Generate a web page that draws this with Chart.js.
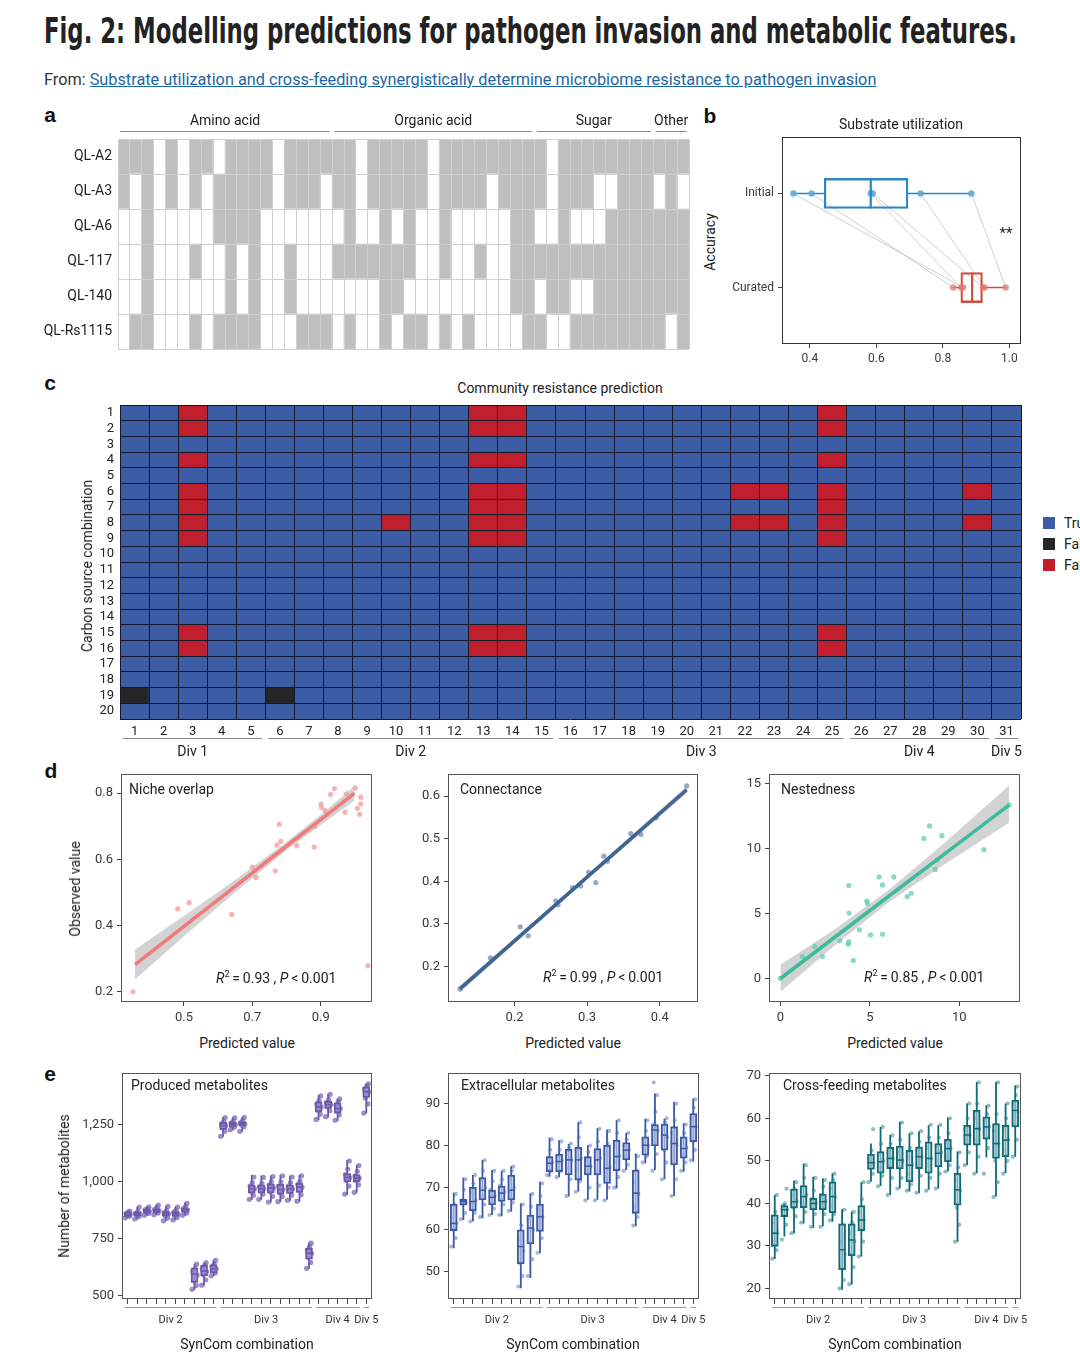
<!DOCTYPE html>
<html lang="en">
<head>
<meta charset="utf-8">
<title>Fig. 2: Modelling predictions for pathogen invasion and metabolic features</title>
<script src="https://cdn.jsdelivr.net/npm/chart.js@4.4.1/dist/chart.umd.min.js"></script>
<style>
  html, body { margin: 0; padding: 0; }
  body { position: relative; width: 1080px; height: 1367px; overflow: hidden; background: #fff;
         font-family: Roboto, "Liberation Sans", Arial, sans-serif; color: #222; }
  canvas { position: absolute; }
  .t { position: absolute; white-space: nowrap; font-size: 14px; line-height: 1; }
  .mid { transform: translate(-50%, -50%); }
  .lft { transform: translateY(-50%); }
  .rot { transform: translate(-50%, -50%) rotate(-90deg); }
  .letter { position: absolute; font: bold 21px "Liberation Sans", Arial, sans-serif; line-height: 1;
            transform: translate(-50%, -50%); color: #111; }
  .sq { position: absolute; width: 12px; height: 12px; }
  .stat sup { font-size: 9px; vertical-align: 6px; line-height: 0; }
</style>
</head>
<body>
<div id="figTitle" class="t" style="left:44px;top:10px;font:bold 36px 'Liberation Sans Narrow','DejaVu Sans Condensed',Roboto,sans-serif;color:#222;transform-origin:0 0;">Fig. 2: Modelling predictions for pathogen invasion and metabolic features.</div>
<div id="figSource" class="t" style="left:44px;top:71px;font-family:'Liberation Sans Narrow',Roboto,sans-serif;font-size:17px;color:#333;transform-origin:0 0;">From: <span style="color:#1b67a7;text-decoration:underline;">Substrate utilization and cross-feeding synergistically determine microbiome resistance to pathogen invasion</span></div>

<div class="letter" style="left:50px;top:114px">a</div>
<div class="letter" style="left:710px;top:115px">b</div>
<div class="letter" style="left:50px;top:382px">c</div>
<div class="letter" style="left:51px;top:770px">d</div>
<div class="letter" style="left:50px;top:1073px">e</div>

<canvas id="chartA" width="651" height="242" style="left:40px;top:109px"></canvas>

<canvas id="chartB" width="303" height="245" style="left:720px;top:129px"></canvas>
<div class="t mid" style="left:901px;top:124px">Substrate utilization</div>
<div class="t rot" style="left:710px;top:242px">Accuracy</div>
<div class="t mid" style="left:1006px;top:233px;font-size:15px">**</div>

<canvas id="chartC" width="963" height="360" style="left:60px;top:403px"></canvas>
<div class="t mid" style="left:560px;top:388px">Community resistance prediction</div>
<div class="t rot" style="left:87px;top:566px">Carbon source combination</div>
<div class="sq" style="left:1043px;top:517px;background:#3c5ca6"></div>
<div class="sq" style="left:1043px;top:538px;background:#262626"></div>
<div class="sq" style="left:1043px;top:559px;background:#c21f2e"></div>
<div class="t lft" style="left:1064px;top:523px">True</div>
<div class="t lft" style="left:1064px;top:544px">False negative</div>
<div class="t lft" style="left:1064px;top:565px">False positive</div>

<canvas id="chartD1" width="300" height="268" style="left:76px;top:764px"></canvas>
<canvas id="chartD2" width="299" height="268" style="left:403px;top:764px"></canvas>
<canvas id="chartD3" width="300" height="268" style="left:724px;top:764px"></canvas>
<div class="t lft" style="left:129px;top:789px">Niche overlap</div>
<div class="t lft" style="left:460px;top:789px">Connectance</div>
<div class="t lft" style="left:781px;top:789px">Nestedness</div>
<div class="t lft stat" style="left:216px;top:978px"><i>R</i><sup>2</sup>&thinsp;=&thinsp;0.93 , <i>P</i>&thinsp;&lt;&thinsp;0.001</div>
<div class="t lft stat" style="left:543px;top:977px"><i>R</i><sup>2</sup>&thinsp;=&thinsp;0.99 , <i>P</i>&thinsp;&lt;&thinsp;0.001</div>
<div class="t lft stat" style="left:864px;top:977px"><i>R</i><sup>2</sup>&thinsp;=&thinsp;0.85 , <i>P</i>&thinsp;&lt;&thinsp;0.001</div>
<div class="t rot" style="left:75px;top:889px">Observed value</div>
<div class="t mid" style="left:247px;top:1043px">Predicted value</div>
<div class="t mid" style="left:573px;top:1043px">Predicted value</div>
<div class="t mid" style="left:895px;top:1043px">Predicted value</div>

<canvas id="chartE1" width="325" height="274" style="left:67px;top:1063px"></canvas>
<canvas id="chartE2" width="326" height="274" style="left:393px;top:1063px"></canvas>
<canvas id="chartE3" width="327" height="274" style="left:714px;top:1063px"></canvas>
<div class="t lft" style="left:131px;top:1085px">Produced metabolites</div>
<div class="t lft" style="left:461px;top:1085px">Extracellular metabolites</div>
<div class="t lft" style="left:783px;top:1085px">Cross-feeding metabolites</div>
<div class="t rot" style="left:64px;top:1186px">Number of metabolites</div>
<div class="t mid" style="left:247px;top:1344px">SynCom combination</div>
<div class="t mid" style="left:573px;top:1344px">SynCom combination</div>
<div class="t mid" style="left:895px;top:1344px">SynCom combination</div>

<script>
// ---- a: substrate utilisation of each strain (1 = used) ----
const strains = ['QL-A2', 'QL-A3', 'QL-A6', 'QL-117', 'QL-140', 'QL-Rs1115'];
const useA2  = [1,1,1,0,1,0,1,1,0,1,1,1,1,0,1,1,1,1, 1,1,0,1,1,1,1,1,0,1,1,1,1,1,1,1,1, 1,0,1,1,1,1,1,1,1,1, 1,1,1];
const useA3  = [1,0,1,0,1,0,1,0,1,1,1,1,1,0,1,1,1,0, 1,1,0,1,1,1,1,1,0,1,1,1,1,0,1,1,1, 1,0,1,1,1,0,0,1,1,1, 0,1,0];
const useA6  = [0,0,1,0,0,0,0,0,1,1,1,1,0,0,0,0,0,0, 0,1,0,0,1,0,1,0,0,1,0,0,0,0,0,1,1, 0,0,1,0,0,0,1,1,1,1, 1,1,1];
const use117 = [0,0,1,0,0,0,1,0,0,1,0,1,0,0,1,0,0,0, 1,1,1,1,1,1,1,0,0,1,0,0,1,0,0,1,1, 1,1,1,1,1,1,1,1,1,1, 1,1,1];
const use140 = [0,0,1,0,0,0,0,0,0,1,0,1,0,0,1,0,0,0, 0,0,0,0,1,1,0,0,0,0,0,0,0,0,0,1,1, 0,1,1,0,0,1,1,1,1,1, 1,1,1];
const useRs  = [0,1,1,0,0,0,1,0,1,1,1,1,0,0,0,1,1,1, 0,1,0,0,1,0,1,1,0,1,0,1,0,0,0,0,1, 1,0,0,1,1,1,1,1,1,1, 1,0,1];
const substrateUse = [useA2, useA3, useA6, use117, use140, useRs];
const substrateClasses = ['Amino acid', 'Organic acid', 'Sugar', 'Other'];
const classFirst = [0, 18, 35, 45];
const classLast = [17, 34, 44, 47];

// ---- b: prediction accuracy ----
const accLevels = ['Curated', 'Initial'];
const accTicks = [0.4, 0.6, 0.8, 1.0];
const initialAcc = [0.350, 0.405, 0.583, 0.589, 0.733, 0.886];
const curatedAcc = [0.861, 0.831, 0.855, 0.921, 0.925, 0.989];
const initialStats = [0.350, 0.443, 0.583, 0.695, 0.886];   // min, q1, median, q3, max
const curatedStats = [0.831, 0.854, 0.888, 0.919, 0.989];

// ---- c: community resistance prediction ----
const combos = [1,2,3,4,5,6,7,8,9,10,11,12,13,14,15,16,17,18,19,20];
const syncoms = [1,2,3,4,5,6,7,8,9,10,11,12,13,14,15,16,17,18,19,20,21,22,23,24,25,26,27,28,29,30,31];
const falsePositive = [
  [1,3],[2,3],[4,3],[6,3],[7,3],[8,3],[9,3],[15,3],[16,3],
  [8,10],
  [1,13],[2,13],[4,13],[6,13],[7,13],[8,13],[9,13],[15,13],[16,13],
  [1,14],[2,14],[4,14],[6,14],[7,14],[8,14],[9,14],[15,14],[16,14],
  [6,22],[8,22],[6,23],[8,23],
  [1,25],[2,25],[4,25],[6,25],[7,25],[8,25],[9,25],[15,25],[16,25],
  [6,30],[8,30]
];
const falseNegative = [[19,1],[19,6]];
const divNames = ['Div 1', 'Div 2', 'Div 3', 'Div 4', 'Div 5'];
const divFirst = [1, 6, 16, 26, 31];
const divLast = [5, 15, 25, 30, 31];

// ---- d: predicted vs observed ----
const nichePred = [0.351,0.482,0.515,0.640,0.700,0.711,0.767,0.772,0.779,0.783,0.830,0.881,0.883,0.901,0.902,0.913,0.929,0.940,0.971,0.975,1.001,1.007,1.014,1.017,1.017,1.038];
const nicheObs  = [0.199,0.450,0.469,0.433,0.576,0.545,0.565,0.643,0.706,0.654,0.641,0.637,0.699,0.767,0.757,0.747,0.796,0.814,0.742,0.798,0.816,0.754,0.736,0.788,0.768,0.278];
const nicheFitX = [0.357, 0.50, 0.65, 0.80, 0.90, 0.999];
const nicheFit  = [0.281, 0.397, 0.518, 0.640, 0.720, 0.800];
const nicheLo   = [0.236, 0.367, 0.500, 0.627, 0.704, 0.778];
const nicheHi   = [0.327, 0.428, 0.537, 0.652, 0.735, 0.822];

const connPred = [0.125,0.167,0.208,0.219,0.257,0.260,0.280,0.291,0.302,0.312,0.323,0.328,0.360,0.374,0.395,0.437];
const connObs  = [0.147,0.220,0.293,0.272,0.354,0.345,0.385,0.389,0.421,0.397,0.459,0.447,0.512,0.510,0.549,0.624];
const connFitX = [0.125, 0.28, 0.437];
const connFit  = [0.147, 0.380, 0.615];
const connLo   = [0.139, 0.375, 0.606];
const connHi   = [0.155, 0.385, 0.624];

const nestPred = [0,1.23,1.92,2.35,3.32,3.79,3.82,3.82,3.84,4.07,4.42,4.83,4.87,5.04,5.52,5.71,5.71,6.34,7.09,7.31,8.02,8.34,8.66,8.77,9.03,11.38,12.80];
const nestObs  = [0,1.68,2.45,1.68,2.89,2.63,2.81,7.14,5.03,1.39,3.74,5.95,5.75,3.35,7.81,7.19,3.40,7.81,6.29,6.55,10.77,11.73,8.38,9.10,10.98,9.90,13.35];
const nestFitX = [0, 3, 6, 9, 12.8];
const nestFit  = [0, 3.13, 6.26, 9.39, 13.35];
const nestLo   = [-1.03, 2.5, 5.8, 8.6, 12.0];
const nestHi   = [1.05, 3.75, 6.75, 10.2, 14.85];

// ---- e: metabolites per SynCom (26 combinations) ----
const synDivNames = ['Div 2', 'Div 3', 'Div 4', 'Div 5'];
const synDivFirst = [1, 11, 21, 26];
const synDivLast = [10, 20, 25, 26];

const producedLo  = [839,835,850,853,826,830,850,526,544,585,1196,1225,1218,920,920,908,910,915,912,617,1269,1281,1265,941,951,1298];
const producedQ1  = [847,850,862,864,848,848,866,558,588,600,1228,1240,1245,950,950,950,945,948,952,660,1305,1320,1300,999,1000,1368];
const producedMed = [855,858,870,872,858,858,876,595,608,618,1245,1250,1253,968,968,972,965,968,975,686,1327,1337,1320,1018,1015,1393];
const producedQ3  = [866,866,878,880,868,868,884,621,633,635,1260,1260,1262,985,985,990,988,985,992,708,1349,1352,1345,1035,1030,1415];
const producedHi  = [873,890,890,899,893,890,908,640,646,657,1283,1281,1283,1029,1027,1027,1029,1025,1029,733,1378,1385,1364,1094,1072,1429];
const producedPts = [
  [841,848,852,856,860,866,871],[836,846,852,858,862,870,888],[852,860,866,870,876,882,889],
  [855,862,868,873,878,886,897],[828,840,850,858,864,874,891],[832,842,850,858,865,874,888],
  [852,862,870,876,882,890,905],[528,545,565,590,605,620,638],[546,570,592,606,618,632,645],
  [587,600,610,618,628,640,655],[1198,1220,1235,1245,1252,1265,1280],[1227,1238,1245,1250,1256,1265,1279],
  [1220,1240,1248,1253,1258,1268,1281],[922,940,955,968,980,995,1020],[922,945,958,968,978,992,1018],
  [910,935,955,972,985,1000,1022],[912,935,952,965,980,998,1025],[918,940,958,968,980,995,1020],
  [914,942,962,975,988,1002,1025],[620,645,668,686,700,715,730],[1272,1295,1312,1327,1340,1355,1375],
  [1284,1310,1328,1337,1346,1360,1382],[1268,1292,1308,1320,1335,1350,1362],[945,980,1005,1018,1030,1055,1090],
  [953,985,1005,1015,1025,1045,1070],[1300,1340,1365,1393,1405,1418,1428]
];
const producedTicks = [500, 750, 1000, 1250];

const extraLo  = [55.6,62.3,62.0,62.7,63.5,63.2,64.3,46.1,48.5,54.4,72.6,72.5,67.9,69.1,67.1,67.1,67.1,69.8,74.2,60.8,75.8,74.2,72.0,68.0,73.8,76.2];
const extraQ1  = [59.8,65.9,64.5,67.1,65.9,66.7,67.1,51.9,56.6,59.6,73.8,73.8,73.0,71.8,73.0,73.0,71.0,74.0,76.6,63.9,77.7,79.9,78.9,75.4,77.0,80.9];
const extraMed = [61.5,66.7,66.7,69.4,67.7,68.7,69.4,56.0,60.4,63.1,75.8,76.2,76.6,76.6,75.1,76.6,74.6,77.4,78.9,68.7,80.1,83.7,82.5,80.5,79.3,84.5];
const extraQ3  = [66.1,67.2,70.1,72.4,69.4,70.4,73.0,60.0,63.5,66.1,77.4,78.0,79.1,79.6,77.4,79.3,80.1,81.3,80.7,74.2,82.1,85.0,85.1,84.5,82.1,87.6];
const extraHi  = [68.8,72.4,73.0,76.6,74.2,74.0,75.1,66.3,68.7,71.4,81.9,81.3,80.4,85.6,80.1,84.1,83.8,86.0,83.0,78.1,86.4,92.4,86.4,90.4,85.3,91.2];
const extraPts = [
  [56,58,60,61.5,63,66,68.5],[62.5,64,66,66.5,67,69.5,72],[62,64,66,67,69,71,73],
  [63,66,68,70,72,74,76.5],[63.5,65,66.5,68,69.5,71.5,74],[63.5,66,67.5,69,70.5,72,74],
  [64.5,66.5,68.5,70,72.5,74,75],[46.5,49,52,55,57.5,61,66],[49,53,57,60,62.5,65.5,68.5],
  [54.5,58,61,63,65,68,71],[73,74,75.5,76,77,79,81.5],[72.5,74,75.5,76.5,77.5,79,81],
  [68,72,74.5,76.5,78,79.5,80.5],[69,71.5,74.5,77,79,82,85.5],[67,70,73.5,75,76.5,78.5,80],
  [67,70.5,74,77,78.5,81,84],[67,70,72.5,75,78,80.5,83.5],[70,72.5,76,77.5,80,83,86],
  [74,75.5,77.5,79,80,81.5,83],[61,63,65.5,68.5,71,74,77.5],[76,77.5,79,80,81.5,83.5,86],
  [74,78,81,83.5,85,88,92,95],[72,76,79,82,84,85.5,86.5],[68,72,76,80,83,86,90],
  [74,76,78,79.5,81,83,85],[76.5,79,82,84.5,86.5,89,91]
];
const extraTicks = [50, 60, 70, 80, 90];

const crossLo  = [26.9,32.2,33.0,35.3,34.2,34.6,35.7,19.7,20.9,27.5,45.1,44.1,42.0,43.5,42.8,42.4,43.2,43.5,47.5,31.0,49.0,47.1,50.8,41.6,47.1,51.0];
const crossQ1  = [29.9,36.9,38.9,39.0,38.5,38.5,37.8,24.4,27.7,33.6,48.0,47.1,48.2,48.1,45.1,48.2,47.1,48.6,49.8,39.6,53.7,53.7,55.1,50.6,51.0,58.0];
const crossMed = [33.0,38.5,40.4,41.6,40.0,40.4,41.6,29.1,31.4,36.1,49.6,49.8,50.6,50.2,49.0,51.0,50.6,51.8,52.9,43.2,56.1,57.6,58.0,54.1,54.9,61.9];
const crossQ3  = [37.3,39.5,43.4,44.2,41.2,42.2,45.1,35.2,35.2,39.5,51.6,52.2,53.2,53.5,52.5,53.3,54.5,54.1,55.1,47.1,58.4,61.9,60.4,58.8,58.4,64.3];
const crossHi  = [42.0,40.0,45.4,49.4,46.3,45.9,47.1,38.6,38.1,45.0,54.1,58.0,56.1,59.2,56.5,57.0,58.4,58.4,60.2,52.2,63.5,68.6,63.1,68.6,63.5,67.8];
const crossPts = [
  [27,29,31,33,35.5,38,42],[31.5,35,37.5,38.5,39.5,40,43.5],[33,37,39,40.5,42,43.5,45],
  [35.5,38,40,42,43.5,46,49],[34.5,37.5,39,40,41,43,46],[34.5,37.5,39.5,40.5,42,44,45.5],
  [36,37.5,39.5,41.5,43.5,45.5,47],[20,22,25,28,31,35,38.5],[21,25,28,31,33,35.5,38],
  [27.5,31,34,36,38,41,45],[45,47,48.5,49.5,50.5,52.5,57.5],[44,46.5,48.5,50,51.5,54,58],
  [42,46,49,50.5,52,54,56],[43.5,46,48.5,50,52,55,59],[43,44.5,47,49,51,53,56.5],
  [42.5,46.5,49,51,52.5,54.5,57],[43,46,49,50.5,53,55.5,58.5],[43.5,47,50,52,53.5,55.5,58.5],
  [47.5,49,51,53,54.5,56.5,60],[31,35,39,43,45.5,48.5,52],[49,52,54.5,56,57.5,60,63.5],
  [47,51,55,57.5,60,63.5,68.5],[47,53,55.5,58,59.5,61,63],[41.5,45,50,54,57,61,68.5],
  [47,50,52.5,55,57.5,60,63.5],[51,55,58.5,61.5,63.5,65.5,67.5]
];
const crossTicks = [20, 30, 40, 50, 60, 70];

// horizontal spread of the dots around each box (display only)
const jitter = [-0.26, 0.18, -0.08, 0.27, -0.18, 0.06, 0.22, -0.12];

// ---------- shared setup ----------
Chart.defaults.font.family = 'Roboto, "Liberation Sans", sans-serif';
Chart.defaults.font.size = 13;
Chart.defaults.color = '#333';
Chart.defaults.animation = false;
Chart.defaults.events = [];
Chart.defaults.layout.autoPadding = false;
Chart.defaults.plugins.legend.display = false;
Chart.defaults.plugins.tooltip.enabled = false;

// outline round the plotting area
const framePlugin = {
  id: 'frame',
  afterDraw(chart, args, opts) {
    if (!opts.color) return;
    const a = chart.chartArea, ctx = chart.ctx;
    ctx.save();
    ctx.strokeStyle = opts.color;
    ctx.lineWidth = 1;
    ctx.strokeRect(Math.round(a.left) + 0.5, Math.round(a.top) + 0.5,
                   Math.round(a.right - a.left) - 1, Math.round(a.bottom - a.top) - 1);
    ctx.restore();
  }
};

// bracket lines + labels for groups of x categories
const groupPlugin = {
  id: 'groupLines',
  afterDraw(chart, args, o) {
    if (!o.groups) return;
    const sc = chart.scales.x, a = chart.chartArea, ctx = chart.ctx;
    const base = o.side === 'top' ? a.top : a.bottom;
    const dir = o.side === 'top' ? -1 : 1;
    ctx.save();
    ctx.strokeStyle = o.lineColor;
    ctx.lineWidth = 1;
    ctx.fillStyle = o.textColor;
    ctx.font = o.font;
    ctx.textAlign = 'center';
    ctx.textBaseline = 'middle';
    o.groups.forEach(g => {
      const x0 = sc.getPixelForValue(g.from - o.half);
      const x1 = sc.getPixelForValue(g.to + o.half);
      const ly = Math.round(base + dir * o.lineGap) + 0.5;
      ctx.beginPath(); ctx.moveTo(x0, ly); ctx.lineTo(x1, ly); ctx.stroke();
      ctx.fillText(g.label, (x0 + x1) / 2, base + dir * o.labelGap);
    });
    ctx.restore();
  }
};
Chart.register(framePlugin, groupPlugin);

// fixed axis size, and no extra room reserved for end labels
function pinSize(ax, size, isX) {
  if (isX) ax.height = size; else ax.width = size;
  ax.paddingTop = 0; ax.paddingBottom = 0; ax.paddingLeft = 0; ax.paddingRight = 0;
}

function linAxis(min, max, values, fmt, size, isX, fontSize, tickLen) {
  return {
    type: 'linear', min: min, max: max, offset: false,
    afterBuildTicks: ax => { ax.ticks = values.map(v => ({ value: v })); },
    afterFit: ax => pinSize(ax, size, isX),
    ticks: { callback: fmt, autoSkip: false, maxRotation: 0, padding: 4, color: '#3a3a3a',
             font: { size: fontSize || 13 } },
    grid: { drawOnChartArea: false, drawTicks: true, tickLength: tickLen || 4, color: '#444', offset: false },
    border: { display: false }
  };
}
const oneDec = v => v.toFixed(1);

// ---------- a ----------
new Chart(document.getElementById('chartA'), {
  type: 'bar',
  data: {
    labels: useA2.map((v, i) => 'S' + (i + 1)),
    datasets: strains.map((s, r) => r).reverse().map(r => ({
      label: strains[r],
      data: substrateUse[r].map(() => 1),
      backgroundColor: substrateUse[r].map(v => v ? '#bfbfbf' : '#ffffff'),
      borderWidth: 0, barPercentage: 1, categoryPercentage: 1
    }))
  },
  options: {
    responsive: false,
    layout: { padding: { top: 30, right: 2, bottom: 2, left: 0 } },
    scales: {
      x: { stacked: true, offset: true, ticks: { display: false },
           grid: { offset: true, z: 1, color: '#d0d0d0', drawTicks: false },
           border: { display: false }, afterFit: ax => pinSize(ax, 0, true) },
      y: { stacked: true, min: 0, max: strains.length,
           afterBuildTicks: ax => { ax.ticks = strains.map((s, i) => ({ value: i + 0.5 })); },
           ticks: { callback: v => strains[strains.length - 1 - Math.floor(v)], color: '#222',
                    font: { size: 14 }, padding: 6, autoSkip: false },
           grid: { offset: true, z: 1, color: '#d0d0d0', drawTicks: false },
           border: { display: false }, afterFit: ax => pinSize(ax, 78, false) }
    },
    plugins: {
      groupLines: {
        side: 'top', half: 0.3, lineGap: 8, labelGap: 18, font: '14px Roboto, sans-serif',
        lineColor: '#8a8a8a', textColor: '#222',
        groups: substrateClasses.map((c, i) => ({ label: c, from: classFirst[i], to: classLast[i] }))
      }
    }
  }
});

// ---------- b ----------
const blueB = '#2b86c2', redB = '#cf4f3e';
const whiskerData = (s, y) => [{ x: s[0], y: y }, { x: s[1], y: y }, { x: s[1], y: null },
                               { x: s[3], y: y }, { x: s[4], y: y }];
const pairData = [];
initialAcc.forEach((v, i) => {
  pairData.push({ x: v, y: 2 }, { x: curatedAcc[i], y: 1 }, { x: v, y: null });
});
new Chart(document.getElementById('chartB'), {
  type: 'scatter',
  data: {
    datasets: [
      { type: 'scatter', data: [{ x: initialStats[2], y: 2 }, { x: curatedStats[2], y: 1 }],
        pointStyle: 'line', pointRotation: 90, pointRadius: 15, pointBorderWidth: 2.2,
        pointBorderColor: [blueB, redB], order: 0 },
      { type: 'scatter', data: initialAcc.map(x => ({ x: x, y: 2 })), pointRadius: 3.2,
        pointBackgroundColor: 'rgba(92,166,214,0.85)', pointBorderWidth: 0, order: 1 },
      { type: 'scatter', data: curatedAcc.map(x => ({ x: x, y: 1 })), pointRadius: 3.2,
        pointBackgroundColor: 'rgba(226,122,112,0.75)', pointBorderWidth: 0, order: 1 },
      { type: 'bar', indexAxis: 'y',
        data: [{ y: 2, x: [initialStats[1], initialStats[3]] }, { y: 1, x: [curatedStats[1], curatedStats[3]] }],
        barThickness: 30, backgroundColor: 'rgba(255,255,255,0)', borderColor: [blueB, redB],
        borderWidth: 1.6, borderSkipped: false, order: 2 },
      { type: 'line', data: whiskerData(initialStats, 2), borderColor: blueB, borderWidth: 1.6,
        pointRadius: 0, order: 3 },
      { type: 'line', data: whiskerData(curatedStats, 1), borderColor: redB, borderWidth: 1.6,
        pointRadius: 0, order: 3 },
      { type: 'line', data: pairData, borderColor: 'rgba(195,195,195,0.8)', borderWidth: 1,
        pointRadius: 0, order: 4 }
    ]
  },
  options: {
    responsive: false,
    layout: { padding: { top: 8, right: 2, bottom: 2, left: 0 } },
    scales: {
      x: linAxis(0.316, 1.035, accTicks, oneDec, 28, true, 12),
      y: linAxis(0.4, 2.6, [1, 2], v => accLevels[v - 1], 62, false, 12)
    },
    plugins: { frame: { color: '#333' } }
  }
});

// ---------- c ----------
const isCell = (list, row, col) => list.some(c => c[0] === row && c[1] === col);
const cellColour = (row, col) => isCell(falseNegative, row, col) ? '#262626'
  : isCell(falsePositive, row, col) ? '#c21f2e' : '#3c5ca6';
new Chart(document.getElementById('chartC'), {
  type: 'bar',
  data: {
    labels: syncoms.map(String),
    datasets: combos.slice().reverse().map(row => ({
      label: 'combination ' + row,
      data: syncoms.map(() => 1),
      backgroundColor: syncoms.map(col => cellColour(row, col)),
      borderWidth: 0, barPercentage: 1, categoryPercentage: 1
    }))
  },
  options: {
    responsive: false,
    layout: { padding: { top: 2, right: 2, bottom: 24, left: 0 } },
    scales: {
      x: { stacked: true, offset: true,
           ticks: { color: '#222', padding: 5, maxRotation: 0, autoSkip: false, font: { size: 13 } },
           grid: { offset: true, z: 1, color: '#15182a', drawTicks: false },
           border: { display: false }, afterFit: ax => pinSize(ax, 20, true) },
      y: { stacked: true, min: 0, max: combos.length,
           afterBuildTicks: ax => { ax.ticks = combos.map((c, i) => ({ value: i + 0.5 })); },
           ticks: { callback: v => combos[combos.length - 1 - Math.floor(v)], color: '#222',
                    font: { size: 13 }, padding: 6, autoSkip: false },
           grid: { offset: true, z: 1, color: '#15182a', drawTicks: false },
           border: { display: false }, afterFit: ax => pinSize(ax, 60, false) }
    },
    plugins: {
      groupLines: {
        side: 'bottom', half: 0.4, lineGap: 19, labelGap: 33, font: '14px Roboto, sans-serif',
        lineColor: '#8a8a8a', textColor: '#222',
        groups: divNames.map((d, i) => ({ label: d, from: divFirst[i] - 1, to: divLast[i] - 1 }))
      }
    }
  }
});

// ---------- d ----------
function fitPanel(id, s) {
  new Chart(document.getElementById(id), {
    type: 'scatter',
    data: {
      datasets: [
        { type: 'line', data: s.fitX.map((x, i) => ({ x: x, y: s.lo[i] })), borderColor: 'rgba(0,0,0,0)',
          borderWidth: 1, pointRadius: 0, fill: false, order: 3 },
        { type: 'line', data: s.fitX.map((x, i) => ({ x: x, y: s.hi[i] })), borderColor: 'rgba(0,0,0,0)',
          borderWidth: 1, pointRadius: 0, fill: { target: 0 }, backgroundColor: 'rgba(175,175,175,0.55)', order: 2 },
        { type: 'scatter', data: s.x.map((x, i) => ({ x: x, y: s.y[i] })), pointRadius: 2.6,
          pointBackgroundColor: s.dot, pointBorderWidth: 0, order: 1 },
        { type: 'line', data: s.fitX.map((x, i) => ({ x: x, y: s.fit[i] })), borderColor: s.color,
          borderWidth: 3.6, pointRadius: 0, order: 0 }
      ]
    },
    options: {
      responsive: false,
      layout: { padding: { top: 10, right: 4, bottom: 2, left: 0 } },
      scales: {
        x: linAxis(s.xr[0], s.xr[1], s.xt, s.fmt, 28, true),
        y: linAxis(s.yr[0], s.yr[1], s.yt, s.fmt, 45, false)
      },
      plugins: { frame: { color: '#555' } }
    }
  });
}
fitPanel('chartD1', { x: nichePred, y: nicheObs, fitX: nicheFitX, fit: nicheFit, lo: nicheLo, hi: nicheHi,
  xr: [0.316, 1.050], yr: [0.168, 0.858], xt: [0.5, 0.7, 0.9], yt: [0.2, 0.4, 0.6, 0.8], fmt: oneDec,
  color: '#ef7b7b', dot: 'rgba(242,160,160,0.8)' });
fitPanel('chartD2', { x: connPred, y: connObs, fitX: connFitX, fit: connFit, lo: connLo, hi: connHi,
  xr: [0.1086, 0.4526], yr: [0.1164, 0.652], xt: [0.2, 0.3, 0.4], yt: [0.2, 0.3, 0.4, 0.5, 0.6], fmt: oneDec,
  color: '#3f6494', dot: 'rgba(95,125,165,0.65)' });
fitPanel('chartD3', { x: nestPred, y: nestObs, fitX: nestFitX, fit: nestFit, lo: nestLo, hi: nestHi,
  xr: [-0.64, 13.40], yr: [-1.81, 15.72], xt: [0, 5, 10], yt: [0, 5, 10, 15], fmt: v => String(v),
  color: '#3dbb9c', dot: 'rgba(95,205,175,0.75)' });

// ---------- e ----------
function boxPanel(id, s) {
  const pos = s.med.map((v, i) => i + 1);
  const whisk = [];
  pos.forEach((x, i) => { whisk.push({ x: x, y: s.lo[i] }, { x: x, y: s.hi[i] }, { x: x, y: null }); });
  const dots = [];
  s.pts.forEach((arr, i) => arr.forEach((y, j) => dots.push({ x: i + 1 + jitter[j % jitter.length], y: y })));
  new Chart(document.getElementById(id), {
    type: 'scatter',
    data: {
      datasets: [
        { type: 'scatter', data: pos.map((x, i) => ({ x: x, y: s.med[i] })), pointStyle: 'line',
          pointRadius: 3.5, pointBorderWidth: 1.5, pointBorderColor: s.color, order: 0 },
        { type: 'bar', data: pos.map((x, i) => ({ x: x, y: [s.q1[i], s.q3[i]] })), barThickness: 7,
          backgroundColor: s.boxFill, borderColor: s.color, borderWidth: 1.8,
          borderSkipped: false, order: 1 },
        { type: 'scatter', data: dots, pointRadius: s.dotSize, pointBackgroundColor: s.dot,
          pointBorderWidth: 0, order: 2 },
        { type: 'line', data: whisk, borderColor: s.color, borderWidth: 1.8, pointRadius: 0,
          spanGaps: false, order: 3 }
      ]
    },
    options: {
      responsive: false,
      layout: { padding: { top: 10, right: 20, bottom: 32, left: 0 } },
      scales: {
        x: linAxis(0.4, 26.6, pos, () => '', 6, true, 13, 5),
        y: linAxis(s.yr[0], s.yr[1], s.yt, v => v.toLocaleString('en-US'), 55, false)
      },
      plugins: {
        frame: { color: '#555' },
        groupLines: {
          side: 'bottom', half: 0.3, lineGap: 8, labelGap: 21, font: '11px Roboto, sans-serif',
          lineColor: '#999', textColor: '#333',
          groups: synDivNames.map((d, i) => ({ label: d, from: synDivFirst[i], to: synDivLast[i] }))
        }
      }
    }
  });
}
boxPanel('chartE1', { lo: producedLo, q1: producedQ1, med: producedMed, q3: producedQ3, hi: producedHi,
  pts: producedPts, yr: [485.6, 1475.4], yt: producedTicks, color: '#6a58a8', dot: 'rgba(112,94,178,0.7)',
  dotSize: 2.6, boxFill: 'rgba(160,145,210,0.8)' });
boxPanel('chartE2', { lo: extraLo, q1: extraQ1, med: extraMed, q3: extraQ3, hi: extraHi,
  pts: extraPts, yr: [43.53, 97.26], yt: extraTicks, color: '#3a58a6', dot: 'rgba(80,110,185,0.5)',
  dotSize: 2.1, boxFill: 'rgba(255,255,255,0.45)' });
boxPanel('chartE3', { lo: crossLo, q1: crossQ1, med: crossMed, q3: crossQ3, hi: crossHi,
  pts: crossPts, yr: [17.5, 70.7], yt: crossTicks, color: '#0f6a78', dot: 'rgba(30,125,135,0.5)',
  dotSize: 2.1, boxFill: 'rgba(255,255,255,0.45)' });

// squeeze the heading lines to the width they take in the figure
function fitWidth(id, w) {
  const el = document.getElementById(id);
  el.style.transform = 'scaleX(' + (w / el.offsetWidth) + ')';
}
fitWidth('figTitle', 973);
fitWidth('figSource', 832);
</script>
</body>
</html>
